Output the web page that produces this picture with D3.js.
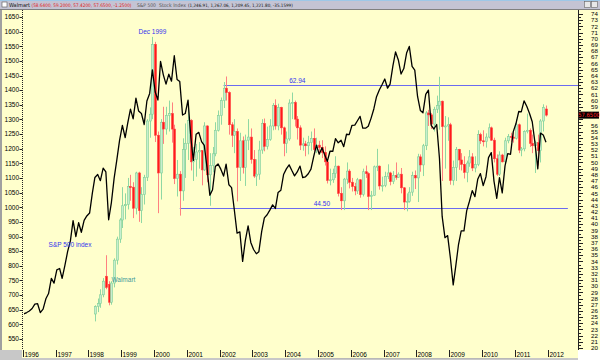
<!DOCTYPE html>
<html>
<head>
<meta charset="utf-8">
<script src="https://cdn.jsdelivr.net/npm/d3@7"></script>
<style>
body { margin: 0; background: #fff; }
svg { display: block; }
</style>
</head>
<body>
<div id="chart"></div>
<script>
// S&P 500 monthly closes, Jan 1996 .. Dec 2011
const spxStart = [1996, 0];
const spx = [
  636.0, 640.4, 645.5, 654.2, 669.1, 670.6, 639.9, 652.0, 687.3, 705.3, 757.0, 740.7,
  786.2, 790.8, 757.1, 801.3, 848.3, 885.1, 954.3, 899.5, 947.3, 914.6, 955.4, 970.4,
  980.3, 1049.3, 1101.8, 1111.8, 1090.8, 1133.8, 1120.7, 957.3, 1017.0, 1098.7, 1163.6, 1229.2,
  1279.6, 1238.3, 1286.4, 1335.2, 1301.8, 1372.7, 1328.7, 1320.4, 1282.7, 1362.9, 1388.9, 1469.3,
  1394.5, 1366.4, 1498.6, 1452.4, 1420.6, 1454.6, 1430.8, 1517.7, 1436.5, 1429.4, 1315.2, 1320.3,
  1366.0, 1239.9, 1160.3, 1249.5, 1255.8, 1224.4, 1211.2, 1133.6, 1040.9, 1059.8, 1139.5, 1148.1,
  1130.2, 1106.7, 1147.4, 1076.9, 1067.1, 989.8, 911.6, 916.1, 815.3, 885.8, 936.3, 879.8,
  855.7, 841.2, 848.2, 916.9, 963.6, 974.5, 990.3, 1008.0, 996.0, 1050.7, 1058.2, 1111.9,
  1131.1, 1144.9, 1126.2, 1107.3, 1120.7, 1140.8, 1101.7, 1104.2, 1114.6, 1130.2, 1173.8, 1211.9,
  1181.3, 1203.6, 1180.6, 1156.9, 1191.5, 1191.3, 1234.2, 1220.3, 1228.8, 1207.0, 1249.5, 1248.3,
  1280.1, 1280.7, 1294.8, 1310.6, 1270.1, 1270.2, 1276.7, 1303.8, 1335.9, 1377.9, 1400.6, 1418.3,
  1438.2, 1406.8, 1420.9, 1482.4, 1530.6, 1503.4, 1455.3, 1474.0, 1526.8, 1549.4, 1481.1, 1468.4,
  1378.6, 1330.6, 1322.7, 1385.6, 1400.4, 1280.0, 1267.4, 1282.8, 1166.4, 968.8, 896.2, 903.3,
  825.9, 735.1, 797.9, 872.8, 919.1, 919.3, 987.5, 1020.6, 1057.1, 1036.2, 1095.6, 1115.1,
  1073.9, 1104.5, 1169.4, 1186.7, 1089.4, 1030.7, 1101.6, 1049.3, 1141.2, 1183.3, 1180.6, 1257.6,
  1286.1, 1327.2, 1325.8, 1363.6, 1345.2, 1320.6, 1292.3, 1218.9, 1131.4, 1253.3, 1247.0, 1221.8
];

// Walmart monthly [open, high, low, close], Mar 1998 .. Dec 2011
const wmStart = [1998, 2];
const wmOHLC = [
  [25.5,26.9,24.3,26.7],[26.7,28.0,25.8,27.2],[27.2,29.5,26.5,28.6],[28.6,31.3,28.2,30.8],[31.6,35.0,29.5,29.8],
  [30.3,30.8,26.9,27.4],[27.4,30.8,27.0,30.5],[30.5,34.5,29.8,34.2],[34.2,38.0,33.5,37.6],[37.6,41.0,37.0,40.7],
  // 1999
  [40.7,46.0,39.4,43.0],[43.0,45.0,40.8,43.2],[43.2,47.5,42.4,46.1],[46.1,48.0,43.8,46.0],[46.0,46.8,41.0,42.6],[42.6,48.5,41.6,48.3],
  [48.3,48.5,40.4,42.2],[42.2,46.0,40.2,44.8],[44.8,48.0,43.2,47.6],[47.6,57.0,47.0,56.7],[56.7,58.9,54.0,57.8],[57.8,70.3,57.0,69.1],
  // 2000
  [69.1,69.5,53.3,54.4],[54.4,55.0,41.8,48.3],[48.3,57.0,44.0,56.5],[56.5,59.0,53.0,55.4],[55.4,59.0,54.5,57.6],[57.6,60.0,55.0,57.9],
  [57.9,59.7,53.2,55.4],[55.4,56.1,46.5,47.4],[47.4,50.4,44.5,48.1],[48.1,48.6,41.4,45.4],[45.4,53.9,43.8,52.1],[52.1,56.3,47.5,53.1],
  // 2001
  [53.1,58.8,50.4,56.8],[56.8,57.0,48.7,50.1],[50.1,52.5,47.0,50.5],[50.5,53.0,47.7,51.7],[51.7,53.3,49.0,51.9],[51.9,52.0,46.3,48.8],
  [48.8,56.5,48.6,55.9],[55.9,56.0,46.8,48.0],[48.0,51.5,43.0,49.5],[49.5,52.5,48.4,51.4],[51.4,56.5,51.0,55.2],[55.2,58.4,55.0,57.6],
  // 2002
  [57.6,60.5,56.1,60.0],[60.0,63.0,58.8,62.0],[62.0,63.9,60.0,61.3],[61.3,61.5,54.5,56.1],[56.1,56.5,52.5,54.4],[54.4,57.0,51.5,55.0],
  [55.0,55.5,43.7,49.2],[49.2,54.8,47.0,53.5],[53.5,54.2,48.2,49.2],[49.2,54.5,46.2,53.6],[53.6,57.0,52.0,54.1],[54.1,55.5,49.8,50.5],
  // 2003
  [50.5,52.0,47.5,47.8],[47.8,50.5,46.2,48.1],[48.1,53.5,47.2,52.0],[52.0,57.0,51.4,56.3],[56.3,57.1,51.8,52.6],[52.6,55.8,52.1,53.7],
  [53.7,57.0,53.5,55.9],[55.9,59.6,55.2,59.2],[59.2,60.2,55.3,55.9],[55.9,59.5,55.2,58.9],[58.9,59.0,54.5,55.6],[55.6,55.8,51.0,53.1],
  // 2004
  [53.1,55.0,51.5,53.8],[53.8,60.2,53.5,59.6],[59.6,61.3,57.0,59.7],[59.7,60.0,55.8,57.0],[57.0,57.5,53.7,55.6],[55.6,56.0,52.0,52.8],
  [52.8,54.0,51.9,53.0],[53.0,53.5,51.0,52.7],[52.7,54.3,51.3,53.2],[53.2,55.0,51.9,53.9],[53.9,55.5,51.8,52.1],[52.1,54.0,51.5,52.8],
  // 2005
  [52.8,53.5,51.5,52.4],[52.4,53.6,50.7,51.6],[51.6,52.6,49.5,50.1],[50.1,50.2,46.6,47.1],[47.1,49.0,46.3,47.2],[47.2,49.0,46.7,48.2],
  [48.2,51.0,47.5,49.4],[49.4,49.5,44.5,45.0],[45.0,46.0,42.3,43.8],[43.8,47.5,42.3,47.3],[47.3,50.0,46.5,48.6],[48.6,48.9,45.8,46.8],
  // 2006
  [46.8,47.5,45.3,46.1],[46.1,46.7,44.7,45.4],[45.4,47.5,44.9,47.2],[47.2,47.3,44.3,44.8],[44.8,49.0,44.5,48.5],[48.5,49.5,47.5,48.2],
  [48.2,48.4,42.3,44.5],[44.5,45.4,42.3,44.7],[44.7,49.5,44.6,49.3],[49.3,52.2,48.6,49.4],[49.4,49.5,45.6,46.2],[46.2,47.7,45.3,46.3],
  // 2007
  [46.3,48.5,46.0,47.7],[47.7,49.7,47.3,48.3],[48.3,48.5,46.3,46.9],[46.9,48.6,46.5,47.9],[47.9,50.0,47.2,47.6],[47.6,48.4,47.5,48.1],
  [48.1,49.1,45.0,45.9],[45.9,46.0,42.3,43.6],[43.6,45.0,42.1,43.7],[43.7,46.0,43.5,45.2],[45.2,48.5,44.6,47.9],[47.9,48.7,45.7,47.5],
  // 2008
  [47.5,51.4,43.6,50.9],[50.9,51.3,48.5,49.6],[49.6,53.0,47.8,52.7],[52.7,58.3,52.0,58.0],[58.0,58.5,55.9,57.7],[57.7,58.0,55.4,56.2],
  [56.2,59.0,55.0,58.6],[58.6,60.8,58.0,59.2],[59.2,63.85,55.3,59.9],[59.9,60.0,47.0,55.8],[55.8,57.5,49.0,55.9],[55.9,57.3,53.5,56.1],
  // 2009
  [56.1,56.4,46.4,47.1],[47.1,50.3,46.3,49.2],[49.2,52.5,47.0,52.1],[52.1,52.2,48.8,50.4],[50.4,51.5,48.7,49.7],[49.7,51.0,47.4,48.4],
  [48.4,50.3,46.8,49.9],[49.9,52.0,49.3,50.9],[50.9,51.5,48.6,49.1],[49.1,51.0,48.4,49.7],[49.7,55.2,49.4,54.5],[54.5,54.8,53.0,53.5],
  // 2010
  [53.5,55.2,52.6,53.4],[53.4,54.7,52.4,54.1],[54.1,56.3,53.9,55.6],[55.6,55.8,53.5,53.6],[53.6,54.0,50.0,50.6],[50.6,51.3,47.8,48.1],
  [48.1,51.8,47.8,51.2],[51.2,51.4,50.0,50.1],[50.1,54.0,49.9,53.5],[53.5,54.6,53.1,54.2],[54.2,54.8,53.3,54.1],[54.1,55.0,53.2,53.9],
  // 2011
  [53.9,57.0,53.7,56.1],[56.1,56.3,51.5,52.0],[52.0,52.5,51.0,52.2],[52.2,55.2,51.8,55.0],[55.0,57.9,54.7,55.2],[55.2,55.5,52.5,53.1],
  [53.1,54.5,51.5,52.7],[52.7,53.5,48.3,53.2],[53.2,54.5,49.5,51.9],[51.9,57.0,50.0,56.7],[56.7,59.4,55.0,58.9],[58.64,59.2,57.42,57.65]
];

const leftTicks = d3.range(550, 1651, 50);
const rightTicks = d3.range(20, 75);
const years = d3.range(1996, 2013);
const lastPrice = 57.65;

// horizontal study lines on the Walmart scale
const levels = [
  { label: "62.94", value: 62.52, from: [2002, 1], to: [2012, 11], labelAt: [2004, 1] },
  { label: "44.50", value: 42.64, from: [2000, 9], to: [2012, 7], labelAt: [2004, 10] }
];

const notes = [
  { text: "Dec 1999", at: [1999, 11], value: 1592, color: "#3333ee", scale: "spx", anchor: "middle" },
  { text: "S&P 500 index", at: [1996, 9], value: 865, color: "#3333ee", scale: "spx", anchor: "start" },
  { text: "Walmart", at: [1998, 8], value: 30.6, color: "#3f9a9a", scale: "wm", anchor: "start" }
];

const titleParts = [
  { text: "Walmart", x: 9, w: 21, color: "#111" },
  { text: "(58.6400, 59.2000, 57.4200, 57.6500, -1.2500)", x: 31.5, w: 100, color: "#e02020" },
  { text: "S&P 500", x: 137, w: 19, color: "#555" },
  { text: "Stock Index", x: 159, w: 27, color: "#555" },
  { text: "(1,246.91, 1,267.06, 1,209.45, 1,221.80, -35.1599)", x: 188, w: 105, color: "#111" }
];

const width = 600, height = 360;
const plot = { left: 23, right: 578, top: 10, bottom: 350 };
const font = "'Liberation Sans', Arial, sans-serif";
const narrow = "'Liberation Sans Narrow', 'DejaVu Sans Condensed', 'Liberation Sans', sans-serif";

const svg = d3.select("#chart")
  .append("svg")
  .attr("width", width)
  .attr("height", height);

const monthDate = (start, i, day = 15) => new Date(start[0], start[1] + i, day);

const x = d3.scaleTime()
  .domain([new Date(1996, 0, 1), new Date(2012, 0, 1)])
  .range([22.7, 547.5]);

const yL = d3.scaleLinear().domain([550, 1650]).range([339, 17]);
const yR = d3.scaleLinear().domain([20, 74]).range([348, 14]);

// backgrounds
svg.append("rect").attr("width", width).attr("height", height).attr("fill", "#ffffcc");
svg.append("rect").attr("x", plot.right).attr("y", plot.bottom).attr("width", width - plot.right).attr("height", height - plot.bottom).attr("fill", "#ffffff");
svg.append("rect").attr("x", 0).attr("y", 0).attr("width", 2).attr("height", height).attr("fill", "#a0a0a0");
svg.append("rect").attr("x", 0).attr("y", 358).attr("width", plot.right).attr("height", 2).attr("fill", "#c8c8c8");
svg.append("rect").attr("x", 0).attr("y", plot.bottom).attr("width", 22).attr("height", 10).attr("fill", "#c8c8c8");

svg.append("clipPath").attr("id", "plotclip")
  .append("rect")
  .attr("x", plot.left + 1).attr("y", plot.top)
  .attr("width", plot.right - plot.left - 1).attr("height", plot.bottom - plot.top);

const g = svg.append("g").attr("clip-path", "url(#plotclip)");

// study lines
levels.forEach(l => {
  g.append("line")
    .attr("x1", x(monthDate(l.from, 0))).attr("x2", x(monthDate(l.to, 0)))
    .attr("y1", Math.round(yR(l.value)) + 0.5).attr("y2", Math.round(yR(l.value)) + 0.5)
    .attr("stroke", "#6b6bf0").attr("stroke-width", 1);
  g.append("text")
    .attr("x", x(monthDate(l.labelAt, 0)))
    .attr("y", yR(l.value) - 2)
    .attr("font-family", font).attr("font-size", 6.5)
    .attr("fill", "#3333ee")
    .text(l.label);
});

// Walmart candles
const candles = g.selectAll(".candle")
  .data(wmOHLC)
  .enter()
  .append("g")
  .attr("class", "candle");

candles.append("line")
  .attr("x1", (d, i) => Math.round(x(monthDate(wmStart, i))) + 0.5)
  .attr("x2", (d, i) => Math.round(x(monthDate(wmStart, i))) + 0.5)
  .attr("y1", d => yR(d[1]))
  .attr("y2", d => yR(d[2]))
  .attr("stroke", d => d[3] >= d[0] ? "#8fd8a4" : "#ff8080")
  .attr("stroke-width", 1);

candles.append("rect")
  .attr("x", (d, i) => Math.round(x(monthDate(wmStart, i))) - 0.5)
  .attr("width", 2)
  .attr("y", d => yR(Math.max(d[0], d[3])))
  .attr("height", d => Math.max(1, Math.abs(yR(d[0]) - yR(d[3]))))
  .attr("fill", d => d[3] >= d[0] ? "#c6eecf" : "#ff1a1a")
  .attr("stroke", d => d[3] >= d[0] ? "#7fcf97" : "#ff4040")
  .attr("stroke-width", 0.6);

// S&P line
const line = d3.line()
  .x((d, i) => x(monthDate(spxStart, i)))
  .y(d => yL(d));

g.append("path")
  .datum(spx)
  .attr("d", line)
  .attr("fill", "none")
  .attr("stroke", "#000")
  .attr("stroke-width", 1.3)
  .attr("stroke-linejoin", "round");

// notes
notes.forEach(n => {
  svg.append("text")
    .attr("x", x(monthDate(n.at, 0)))
    .attr("y", n.scale === "spx" ? yL(n.value) : yR(n.value))
    .attr("text-anchor", n.anchor)
    .attr("font-family", font).attr("font-size", 6.5)
    .attr("fill", n.color)
    .text(n.text);
});

// left axis
svg.append("line")
  .attr("x1", 22.5).attr("x2", 22.5).attr("y1", plot.top).attr("y2", plot.bottom)
  .attr("stroke", "#222").attr("stroke-dasharray", "1,1");
leftTicks.forEach(t => {
  svg.append("line")
    .attr("x1", 19.5).attr("x2", 22.5)
    .attr("y1", Math.round(yL(t)) + 0.5).attr("y2", Math.round(yL(t)) + 0.5)
    .attr("stroke", "#222");
  svg.append("text")
    .attr("x", 19).attr("y", yL(t) + 2.3)
    .attr("text-anchor", "end")
    .attr("font-family", font).attr("font-size", 6.5)
    .attr("fill", "#000")
    .text(t);
});

// right axis
svg.append("line")
  .attr("x1", plot.right + 0.5).attr("x2", plot.right + 0.5).attr("y1", plot.top).attr("y2", plot.bottom)
  .attr("stroke", "#222");
rightTicks.forEach(t => {
  svg.append("line")
    .attr("x1", plot.right + 0.5).attr("x2", plot.right + 5)
    .attr("y1", Math.round(yR(t)) + 0.5).attr("y2", Math.round(yR(t)) + 0.5)
    .attr("stroke", "#222");
  if (t < 74) {
    svg.append("line")
      .attr("x1", plot.right + 0.5).attr("x2", plot.right + 3)
      .attr("y1", Math.round(yR(t + 0.5)) + 0.5).attr("y2", Math.round(yR(t + 0.5)) + 0.5)
      .attr("stroke", "#222");
  }
  // labels covered by the last-price box are not drawn
  if (Math.abs(yR(t) - yR(lastPrice)) < 6.2) return;
  svg.append("text")
    .attr("x", 598).attr("y", yR(t) + 2.2)
    .attr("text-anchor", "end")
    .attr("font-family", font).attr("font-size", 6.2)
    .attr("fill", "#000")
    .text(t);
});

// last price box
svg.append("rect")
  .attr("x", plot.right + 1).attr("y", yR(lastPrice) - 3.5)
  .attr("width", 20).attr("height", 7)
  .attr("fill", "#000");
svg.append("text")
  .attr("x", plot.right + 11).attr("y", yR(lastPrice) + 2)
  .attr("text-anchor", "middle")
  .attr("font-family", narrow).attr("font-size", 5.8)
  .attr("fill", "#ff2020")
  .text(lastPrice.toFixed(4));

// bottom axis
years.forEach(yr => {
  const xv = Math.round(x(new Date(yr, 0, 1))) + 0.5;
  svg.append("line")
    .attr("x1", xv).attr("x2", xv).attr("y1", plot.bottom).attr("y2", 357)
    .attr("stroke", "#222");
  svg.append("text")
    .attr("x", xv + 1).attr("y", 357)
    .attr("font-family", font).attr("font-size", 6.5)
    .attr("fill", "#000")
    .text(yr);
});
svg.append("line")
  .attr("x1", 317).attr("x2", 517).attr("y1", 358.5).attr("y2", 358.5)
  .attr("stroke", "#b8b8b8");

// title bar
svg.append("rect").attr("x", 0).attr("y", 0).attr("width", width).attr("height", 9).attr("fill", "#c4c4d4");
svg.append("line").attr("x1", 0).attr("x2", width).attr("y1", 0.5).attr("y2", 0.5).attr("stroke", "#9ec8e8");
svg.append("line").attr("x1", 0).attr("x2", width).attr("y1", 9.5).attr("y2", 9.5).attr("stroke", "#808080");
svg.append("rect").attr("x", 2).attr("y", 2).attr("width", 5).attr("height", 5).attr("fill", "#fff").attr("stroke", "#555").attr("stroke-width", 0.6);
svg.append("rect").attr("x", 584.5).attr("y", 1.5).attr("width", 6).attr("height", 6).attr("fill", "#e8e8e8").attr("stroke", "#666").attr("stroke-width", 0.6);
svg.append("rect").attr("x", 591.5).attr("y", 1.5).attr("width", 6).attr("height", 6).attr("fill", "#e8e8e8").attr("stroke", "#666").attr("stroke-width", 0.6);

// title pieces: shrink each font until it fits its slot
titleParts.forEach(p => {
  const t = svg.append("text")
    .attr("x", p.x).attr("y", 7)
    .attr("font-family", narrow).attr("font-size", 6)
    .attr("fill", p.color)
    .text(p.text);
  const len = t.node().getComputedTextLength();
  if (len > p.w) t.attr("font-size", (6 * p.w / len).toFixed(2));
});
</script>
</body>
</html>
